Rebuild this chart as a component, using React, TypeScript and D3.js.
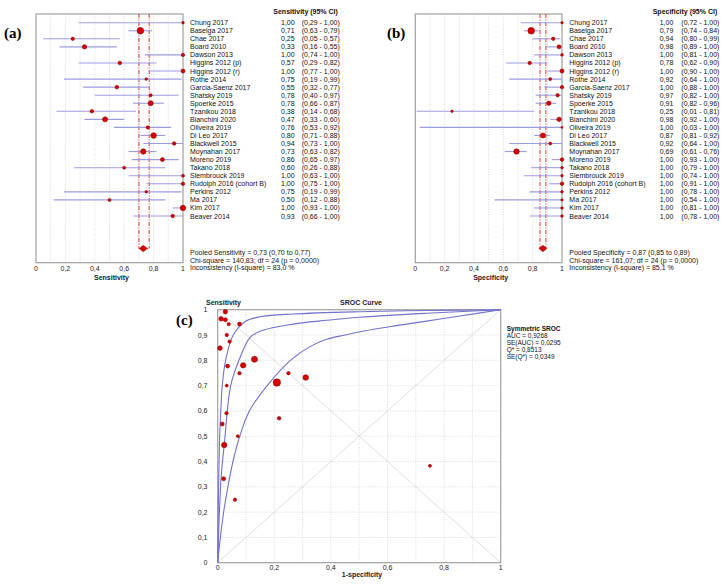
import React from "react";
import * as d3 from "d3";

const studies = ["Chung 2017","Baselga 2017","Chae 2017","Board 2010","Dawson 2013","Higgins 2012 (p)","Higgins 2012 (r)","Rothe 2014","Garcia-Saenz 2017","Shatsky 2019","Spoerke 2015","Tzanikou 2018","Bianchini 2020","Oliveira 2019","Di Leo 2017","Blackwell 2015","Moynahan 2017","Moreno 2019","Takano 2018","Slembrouck 2019","Rudolph 2016 (cohort B)","Perkins 2012","Ma 2017","Kim 2017","Beaver 2014"];

const sens = [1.00,0.71,0.25,0.33,1.00,0.57,1.00,0.75,0.55,0.78,0.78,0.38,0.47,0.76,0.80,0.94,0.73,0.86,0.60,1.00,1.00,0.75,0.50,1.00,0.93];
const sensLo = [0.29,0.63,0.05,0.16,0.74,0.29,0.77,0.19,0.32,0.40,0.66,0.14,0.33,0.53,0.71,0.73,0.63,0.65,0.26,0.63,0.75,0.19,0.12,0.93,0.66];
const sensHi = [1.00,0.79,0.57,0.55,1.00,0.82,1.00,0.99,0.77,0.97,0.87,0.68,0.60,0.92,0.88,1.00,0.82,0.97,0.88,1.00,1.00,0.99,0.88,1.00,1.00];
const sensWeight = [1.3,3.3,1.7,2.2,1.7,1.8,2.0,1.3,1.8,1.5,2.5,1.8,2.5,1.7,2.8,1.8,2.7,2.0,1.5,1.5,1.7,1.3,1.5,2.7,1.8];

const spec = [1.00,0.79,0.94,0.98,1.00,0.78,1.00,0.92,1.00,0.97,0.91,0.25,0.98,1.00,0.87,0.92,0.69,1.00,1.00,1.00,1.00,1.00,1.00,1.00,1.00];
const specLo = [0.72,0.74,0.80,0.89,0.81,0.62,0.90,0.64,0.88,0.82,0.82,0.01,0.92,0.03,0.81,0.64,0.61,0.93,0.79,0.74,0.91,0.78,0.54,0.81,0.78];
const specHi = [1.00,0.84,0.99,1.00,1.00,0.90,1.00,1.00,1.00,1.00,0.96,0.81,1.00,1.00,0.92,1.00,0.76,1.00,1.00,1.00,1.00,1.00,1.00,1.00,1.00];
const specWeight = [1.2,3.3,1.7,2.0,1.3,1.7,2.0,1.5,1.7,1.7,2.2,1.2,2.2,1.0,2.5,1.5,2.7,1.8,1.3,1.3,1.8,1.3,1.2,1.3,1.3];

const pooledSens = { est: 0.73, lo: 0.70, hi: 0.77 };
const pooledSpec = { est: 0.87, lo: 0.85, hi: 0.89 };

const sensSummary = ["Pooled Sensitivity = 0,73 (0,70 to 0,77)", "Chi-square = 140,83; df =  24 (p = 0,0000)", "Inconsistency (I-square) = 83,0 %"];
const specSummary = ["Pooled Specificity = 0,87 (0,85 to 0,89)", "Chi-square = 161,07; df =  24 (p = 0,0000)", "Inconsistency (I-square) = 85,1 %"];

const forestTicks = [0, 0.2, 0.4, 0.6, 0.8, 1];
const tickLabels = ["0", "0,2", "0,4", "0,6", "0,8", "1"];
const srocYTicks = [0, 0.1, 0.2, 0.3, 0.4, 0.5, 0.6, 0.7, 0.8, 0.9, 1];
const srocYLabels = ["0", "0,1", "0,2", "0,3", "0,4", "0,5", "0,6", "0,7", "0,8", "0,9", "1"];

// SROC study points: 1-specificity, sensitivity, marker radius
const srocFpr = [0.027,0.012,0.027,0.039,0.077,0.032,0.042,0.008,0.035,0.077,0.090,0.130,0.032,0.209,0.250,0.311,0.031,0.016,0.217,0.071,0.023,0.021,0.061,0.750];
const srocSens = [0.992,0.964,0.960,0.943,0.943,0.900,0.874,0.848,0.777,0.749,0.780,0.804,0.700,0.712,0.749,0.732,0.591,0.548,0.571,0.500,0.465,0.332,0.249,0.383];
const srocSize = [2.2,2.3,2.0,1.7,2.0,1.7,1.7,2.3,2.0,1.7,2.7,3.0,1.5,3.7,1.7,2.8,1.7,2.0,1.8,1.5,2.7,2.0,1.7,1.5];

// SROC curves (1-specificity, sensitivity)
const curveInner: [number, number][] = [[0,0],[0.002,0.2],[0.004,0.35],[0.007,0.5],[0.011,0.6],[0.016,0.7],[0.028,0.8],[0.055,0.9],[0.1,0.955],[0.15,0.972],[0.267,0.983],[0.5,0.992],[0.75,0.997],[1,1]];
const curveMiddle: [number, number][] = [[0,0],[0.006,0.2],[0.013,0.35],[0.026,0.5],[0.034,0.6],[0.046,0.7],[0.075,0.8],[0.114,0.89],[0.15,0.915],[0.267,0.943],[0.385,0.958],[0.5,0.97],[0.739,0.986],[1,1]];
const curveOuter: [number, number][] = [[0,0],[0.0095,0.1],[0.021,0.2],[0.036,0.3],[0.054,0.4],[0.078,0.5],[0.112,0.6],[0.175,0.7],[0.257,0.8],[0.326,0.854],[0.385,0.883],[0.45,0.9],[0.503,0.913],[0.62,0.935],[0.739,0.955],[0.856,0.975],[1,1]];

const srocStats = ["Symmetric SROC", "AUC = 0,9268", "SE(AUC) = 0,0295", "Q* = 0,8513", "SE(Q*) = 0,0349"];

const FONT = "'Liberation Sans', Arial, sans-serif";
const RED = "#d80000";
const RED_DARK = "#8a0000";
const CI_COLOR = "#9c9ce0";
const GRID = "#cfcfcf";

const fmt = (v: number) => d3.format(".2f")(v).replace(".", ",");

type ForestProps = {
  x0: number; x1: number; top: number; bottom: number;
  est: number[]; lo: number[]; hi: number[]; w: number[];
  pooled: { est: number; lo: number; hi: number };
  header: string; axisTitle: string; summary: string[];
  nameX: number; valX: number; ciX: number; headerX: number;
};

function Forest(p: ForestProps) {
  const x = d3.scaleLinear().domain([0, 1]).range([p.x0, p.x1]);
  const y = d3.scalePoint<string>().domain(studies).range([22.7, 216]);
  const pooledY = 248.5;
  const grid = d3.range(1, 10).map((i) => i / 10);
  return (
    <g fontFamily={FONT}>
      {grid.map((g) => (
        <line key={g} x1={x(g)} x2={x(g)} y1={p.top} y2={p.bottom} stroke={GRID} strokeWidth={0.8} strokeDasharray="1,1.5" />
      ))}
      <rect x={p.x0} y={p.top} width={p.x1 - p.x0} height={p.bottom - p.top} fill="none" stroke="#a0a0a0" strokeWidth={1.2} />
      {[p.pooled.lo, p.pooled.hi].map((v, i) => (
        <line key={i} x1={x(v)} x2={x(v)} y1={p.top} y2={pooledY} stroke={RED} strokeWidth={0.8} strokeDasharray="4,1.5,1,1.5" />
      ))}
      <line x1={x(p.pooled.lo)} x2={x(p.pooled.hi)} y1={pooledY} y2={pooledY} stroke={RED} strokeWidth={0.8} strokeDasharray="2,1.5" />
      {studies.map((s, i) => (
        <g key={s}>
          <line x1={x(p.lo[i])} x2={x(p.hi[i])} y1={y(s)} y2={y(s)} stroke={CI_COLOR} strokeWidth={1.1} />
          <circle cx={x(p.est[i])} cy={y(s)} r={p.w[i]} fill={RED} stroke={RED_DARK} strokeWidth={0.6} />
          <text x={p.nameX} y={(y(s) as number) + 2.5} fontSize={7} fill="#111">{s}</text>
          <text x={p.valX} y={(y(s) as number) + 2.5} fontSize={7} fill="#111">{fmt(p.est[i])}</text>
          <text x={p.ciX} y={(y(s) as number) + 2.5} fontSize={7} fill="#111">{`(${fmt(p.lo[i])} - ${fmt(p.hi[i])})`}</text>
        </g>
      ))}
      <path
        d={`M${x(p.pooled.est) - 4},${pooledY} L${x(p.pooled.est)},${pooledY - 3.2} L${x(p.pooled.est) + 4},${pooledY} L${x(p.pooled.est)},${pooledY + 3.2} Z`}
        fill={RED} stroke={RED_DARK} strokeWidth={0.5}
      />
      <circle cx={x(p.pooled.est)} cy={pooledY} r={2.4} fill={RED} />
      <text x={p.headerX} y={13.5} fontSize={7} fontWeight="bold" fill="#111">{p.header}</text>
      {p.summary.map((t, i) => (
        <text key={i} x={p.nameX} y={255.2 + i * 7.3} fontSize={7} fill="#111">{t}</text>
      ))}
      {forestTicks.map((t, i) => (
        <text key={t} x={x(t)} y={270.5} fontSize={7} textAnchor="middle" fill="#222">{tickLabels[i]}</text>
      ))}
      <text x={(p.x0 + p.x1) / 2 + 2} y={280} fontSize={7} fontWeight="bold" textAnchor="middle" fill="#222">{p.axisTitle}</text>
    </g>
  );
}

function Sroc() {
  const x = d3.scaleLinear().domain([0, 1]).range([217.7, 500.7]);
  const y = d3.scaleLinear().domain([0, 1]).range([562.7, 309.7]);
  const line = d3.line<[number, number]>().x((d) => x(d[0])).y((d) => y(d[1])).curve(d3.curveCatmullRom.alpha(0.5));
  const grid = d3.range(1, 10).map((i) => i / 10);
  return (
    <g fontFamily={FONT}>
      {grid.map((g) => (
        <g key={g}>
          <line x1={x(g)} x2={x(g)} y1={y(0)} y2={y(1)} stroke={GRID} strokeWidth={0.8} strokeDasharray="1,1.5" />
          <line x1={x(0)} x2={x(1)} y1={y(g)} y2={y(g)} stroke={GRID} strokeWidth={0.8} strokeDasharray="1,1.5" />
        </g>
      ))}
      <line x1={x(0)} y1={y(0)} x2={x(1)} y2={y(1)} stroke="#d6d6d6" strokeWidth={0.8} />
      <line x1={x(0)} y1={y(1)} x2={x(1)} y2={y(0)} stroke="#d6d6d6" strokeWidth={0.8} />
      <rect x={x(0)} y={y(1)} width={x(1) - x(0)} height={y(0) - y(1)} fill="none" stroke="#a0a0a0" strokeWidth={1.2} />
      {[curveInner, curveMiddle, curveOuter].map((c, i) => (
        <path key={i} d={line(c) || ""} fill="none" stroke="#7272c8" strokeWidth={1.1} />
      ))}
      {srocFpr.map((f, i) => (
        <circle key={i} cx={x(f)} cy={y(srocSens[i])} r={srocSize[i]} fill={RED} stroke={RED_DARK} strokeWidth={0.6} />
      ))}
      {srocYTicks.map((t, i) => (
        <text key={t} x={207.5} y={y(t) + 2.5} fontSize={7} textAnchor="end" fill="#222">{srocYLabels[i]}</text>
      ))}
      {forestTicks.map((t, i) => (
        <text key={t} x={x(t)} y={569.5} fontSize={7} textAnchor="middle" fill="#222">{tickLabels[i]}</text>
      ))}
      <text x={206} y={304.5} fontSize={7} fontWeight="bold" fill="#222">Sensitivity</text>
      <text x={361} y={304.5} fontSize={7} fontWeight="bold" textAnchor="middle" fill="#222">SROC Curve</text>
      <text x={362} y={577} fontSize={7} fontWeight="bold" textAnchor="middle" fill="#222">1-specificity</text>
      {srocStats.map((t, i) => (
        <text key={i} x={506.7} y={330.5 + i * 7} fontSize={6.5} fontWeight={i === 0 ? "bold" : "normal"} fill="#111">{t}</text>
      ))}
    </g>
  );
}

export default function App() {
  return (
    <svg width={724} height={584} style={{ position: "absolute", left: 0, top: 0, background: "#fff" }}>
      <rect width={724} height={584} fill="#fff" />
      <Forest
        x0={36} x1={183} top={14} bottom={262.7}
        est={sens} lo={sensLo} hi={sensHi} w={sensWeight}
        pooled={pooledSens} header="Sensitivity (95% CI)" axisTitle="Sensitivity" summary={sensSummary}
        nameX={190} valX={281} ciX={301.7} headerX={273.3}
      />
      <Forest
        x0={415.3} x1={562} top={14} bottom={262.7}
        est={spec} lo={specLo} hi={specHi} w={specWeight}
        pooled={pooledSpec} header="Specificity (95% CI)" axisTitle="Specificity" summary={specSummary}
        nameX={569.3} valX={659.7} ciX={681.3} headerX={652.7}
      />
      <Sroc />
      <g fontFamily="'Liberation Serif', 'Times New Roman', serif" fontWeight="bold" fontSize={15} fill="#000">
        <text x={4} y={38}>(a)</text>
        <text x={387} y={38}>(b)</text>
        <text x={176} y={325}>(c)</text>
      </g>
    </svg>
  );
}
